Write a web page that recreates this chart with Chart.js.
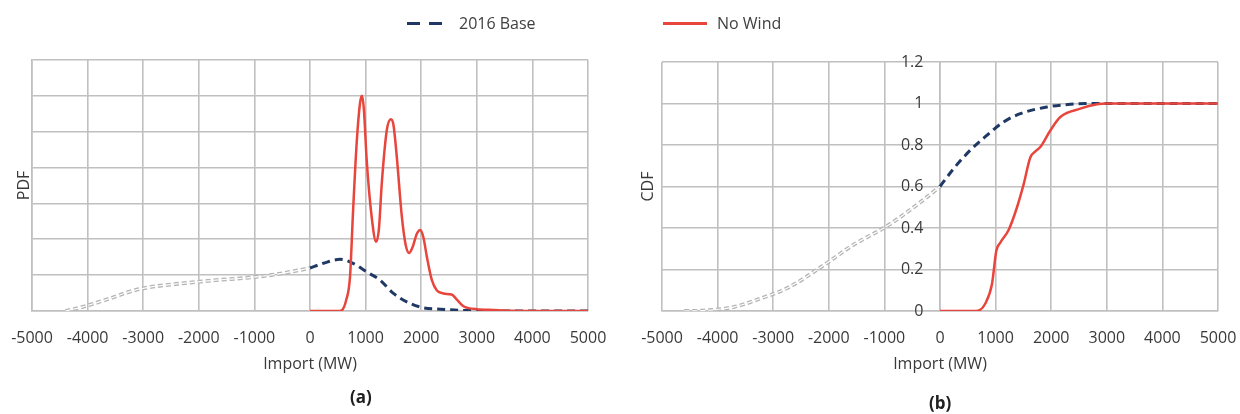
<!DOCTYPE html>
<html>
<head>
<meta charset="utf-8">
<script src="https://cdn.jsdelivr.net/npm/chart.js@4.4.1/dist/chart.umd.min.js"></script>
<style>
  body { margin: 0; background: #fff; font-family: 'Open Sans', sans-serif; color: #404040; }
  #wrap { position: relative; width: 1240px; height: 414px; overflow: hidden; }
  canvas { position: absolute; top: 0; }
  .leg { position: absolute; font-size: 16px; line-height: 20px; top: 13px; }
  .mk { position: absolute; height: 3px; top: 22px; }
  .cap { position: absolute; font-size: 17px; font-weight: bold; color: #202020; }
</style>
</head>
<body>
<div id="wrap">
  <canvas id="pdfChart" width="620" height="414" style="left:0"></canvas>
  <canvas id="cdfChart" width="620" height="414" style="left:620px"></canvas>
  <div class="mk" style="left:407px;width:13px;background:#1f3864"></div>
  <div class="mk" style="left:429px;width:13px;background:#1f3864"></div>
  <div class="leg" style="left:459px">2016 Base</div>
  <div class="mk" style="left:663px;width:44px;background:#e8453c"></div>
  <div class="leg" style="left:717px">No Wind</div>
  <div class="cap" style="left:350px;top:385px">(a)</div>
  <div class="cap" style="left:929px;top:391px">(b)</div>
</div>
<script>
// import axis ticks (MW)
const xTicks = [-5000, -4000, -3000, -2000, -1000, 0, 1000, 2000, 3000, 4000, 5000];
const pdfTicks = [0, 1, 2, 3, 4, 5, 6, 7];
const cdfTicks = [0, 0.2, 0.4, 0.6, 0.8, 1, 1.2];

// PDF (a) - 2016 Base, negative imports (grey part) and positive imports (navy part)
const pdfBaseNegX = [-4400, -4100, -3600, -3200, -2900, -2300, -1700, -1100, -500, 0];
const pdfBaseNegY = [0, 0.11, 0.35, 0.56, 0.66, 0.77, 0.86, 0.93, 1.05, 1.2];
const pdfBasePosX = [0, 240, 540, 775, 1020, 1261, 1501, 1802, 2042, 2342, 2700, 3000, 3500, 5000];
const pdfBasePosY = [1.2, 1.33, 1.44, 1.33, 1.09, 0.86, 0.49, 0.21, 0.09, 0.05, 0.02, 0.01, 0, 0];

// PDF (a) - No Wind
const pdfWindX = [0, 500, 570, 650, 720, 775, 840, 900, 935, 970, 1020, 1111, 1189, 1240, 1291, 1381, 1454, 1500,
  1561, 1652, 1720, 1784, 1850, 1920, 1982, 2040, 2102, 2192, 2283, 2400, 2500, 2560, 2650, 2760, 2850, 3000, 3300, 3600, 4000, 5000];
const pdfWindY = [0, 0, 0.02, 0.3, 0.96, 2.8, 4.7, 5.8, 6.0, 5.6, 4.2, 2.6, 1.93, 2.3, 3.56, 5.04, 5.35, 5.2,
  4.3, 2.63, 1.85, 1.62, 1.8, 2.15, 2.26, 2.05, 1.51, 0.86, 0.57, 0.49, 0.47, 0.45, 0.3, 0.13, 0.08, 0.05, 0.03, 0.01, 0, 0];

// CDF (b)
const cdfBaseNegX = [-4600, -4200, -3700, -3230, -2750, -2150, -1550, -950, -350, 0];
const cdfBaseNegY = [0, 0.003, 0.02, 0.06, 0.11, 0.21, 0.32, 0.41, 0.525, 0.6];
const cdfBasePosX = [0, 245, 545, 845, 1144, 1444, 1924, 2344, 2758, 3000, 5000];
const cdfBasePosY = [0.6, 0.686, 0.775, 0.847, 0.911, 0.951, 0.983, 0.996, 1, 1, 1];
const cdfWindX = [0, 600, 700, 815, 935, 1013, 1085, 1234, 1385, 1504, 1624, 1720, 1804, 1984, 2164, 2523, 2824, 3000, 5000];
const cdfWindY = [0, 0, 0.003, 0.036, 0.13, 0.29, 0.33, 0.39, 0.5, 0.61, 0.74, 0.77, 0.79, 0.87, 0.935, 0.975, 0.996, 1, 1];

const pts = (xs, ys) => xs.map((x, i) => ({ x: x, y: ys[i] }));

Chart.defaults.font.family = "'Open Sans', sans-serif";
Chart.defaults.font.size = 16;
Chart.defaults.color = '#3a3a3a';

const gridColor = '#c0c0c0';
const navy = '#1f3864';
const red = '#e8453c';

function lines(negX, negY, posX, posY, windX, windY) {
  const common = { pointRadius: 0, fill: false, cubicInterpolationMode: 'monotone', yAxisID: 'y' };
  return [
    Object.assign({ label: 'No Wind', data: pts(windX, windY), borderColor: red, borderWidth: 2.5 }, common),
    Object.assign({ label: '2016 Base', data: pts(posX, posY), borderColor: navy, borderWidth: 3, borderDash: [8, 5] }, common),
    Object.assign({ label: 'neg inner', data: pts(negX, negY), borderColor: '#ffffff', borderWidth: 1.2, borderDash: [5, 3] }, common),
    Object.assign({ label: 'neg outline', data: pts(negX, negY), borderColor: '#b4b4b4', borderWidth: 3.8, borderDash: [5, 3] }, common)
  ];
}

function xAxis() {
  return {
    type: 'linear', min: -5000, max: 5000,
    afterBuildTicks: s => { s.ticks = xTicks.map(v => ({ value: v })); },
    afterFit: s => { s.height = 63; s.paddingLeft = 0; s.paddingRight = 0; },
    grid: { color: gridColor, lineWidth: 1.6, drawTicks: false },
    border: { color: gridColor, width: 1.6 },
    ticks: { padding: 18, maxRotation: 0, autoSkip: false, callback: v => String(v) },
    title: { display: true, text: 'Import (MW)', padding: { top: 0, bottom: 0 } }
  };
}

new Chart(document.getElementById('pdfChart'), {
  type: 'line',
  data: { datasets: lines(pdfBaseNegX, pdfBaseNegY, pdfBasePosX, pdfBasePosY, pdfWindX, pdfWindY) },
  options: {
    responsive: false, animation: false,
    layout: { padding: { top: 60, right: 32, bottom: 40, left: 0 } },
    plugins: { legend: { display: false }, tooltip: { enabled: false } },
    scales: {
      x: xAxis(),
      y: {
        min: 0, max: 7,
        afterBuildTicks: s => { s.ticks = pdfTicks.map(v => ({ value: v })); },
        afterFit: s => { s.width = 32; },
        grid: { color: gridColor, lineWidth: 1.6, drawTicks: false },
        border: { color: gridColor, width: 1.6 },
        ticks: { display: false },
        title: { display: true, text: 'PDF', padding: { top: 15, bottom: 0 } }
      }
    }
  }
});

new Chart(document.getElementById('cdfChart'), {
  type: 'line',
  data: { datasets: lines(cdfBaseNegX, cdfBaseNegY, cdfBasePosX, cdfBasePosY, cdfWindX, cdfWindY) },
  options: {
    responsive: false, animation: false,
    layout: { padding: { top: 62, right: 22, bottom: 40, left: 0 } },
    plugins: { legend: { display: false }, tooltip: { enabled: false } },
    scales: {
      x: xAxis(),
      yt: {
        type: 'linear', position: 'left',
        afterFit: s => { s.width = 42; },
        grid: { display: false },
        border: { display: false },
        ticks: { display: false },
        title: { display: true, text: 'CDF', padding: { top: 19, bottom: 0 } }
      },
      y: {
        type: 'linear', position: { x: 0 }, min: 0, max: 1.2,
        afterBuildTicks: s => { s.ticks = cdfTicks.map(v => ({ value: v })); },
        grid: { color: gridColor, lineWidth: 1.6, drawTicks: false },
        border: { color: gridColor, width: 1.6 },
        // labels sit left of the x=0 line; trailing spaces give the gap
        ticks: { callback: v => String(Math.round(v * 10) / 10) + '    ' }
      }
    }
  }
});
</script>
</body>
</html>
